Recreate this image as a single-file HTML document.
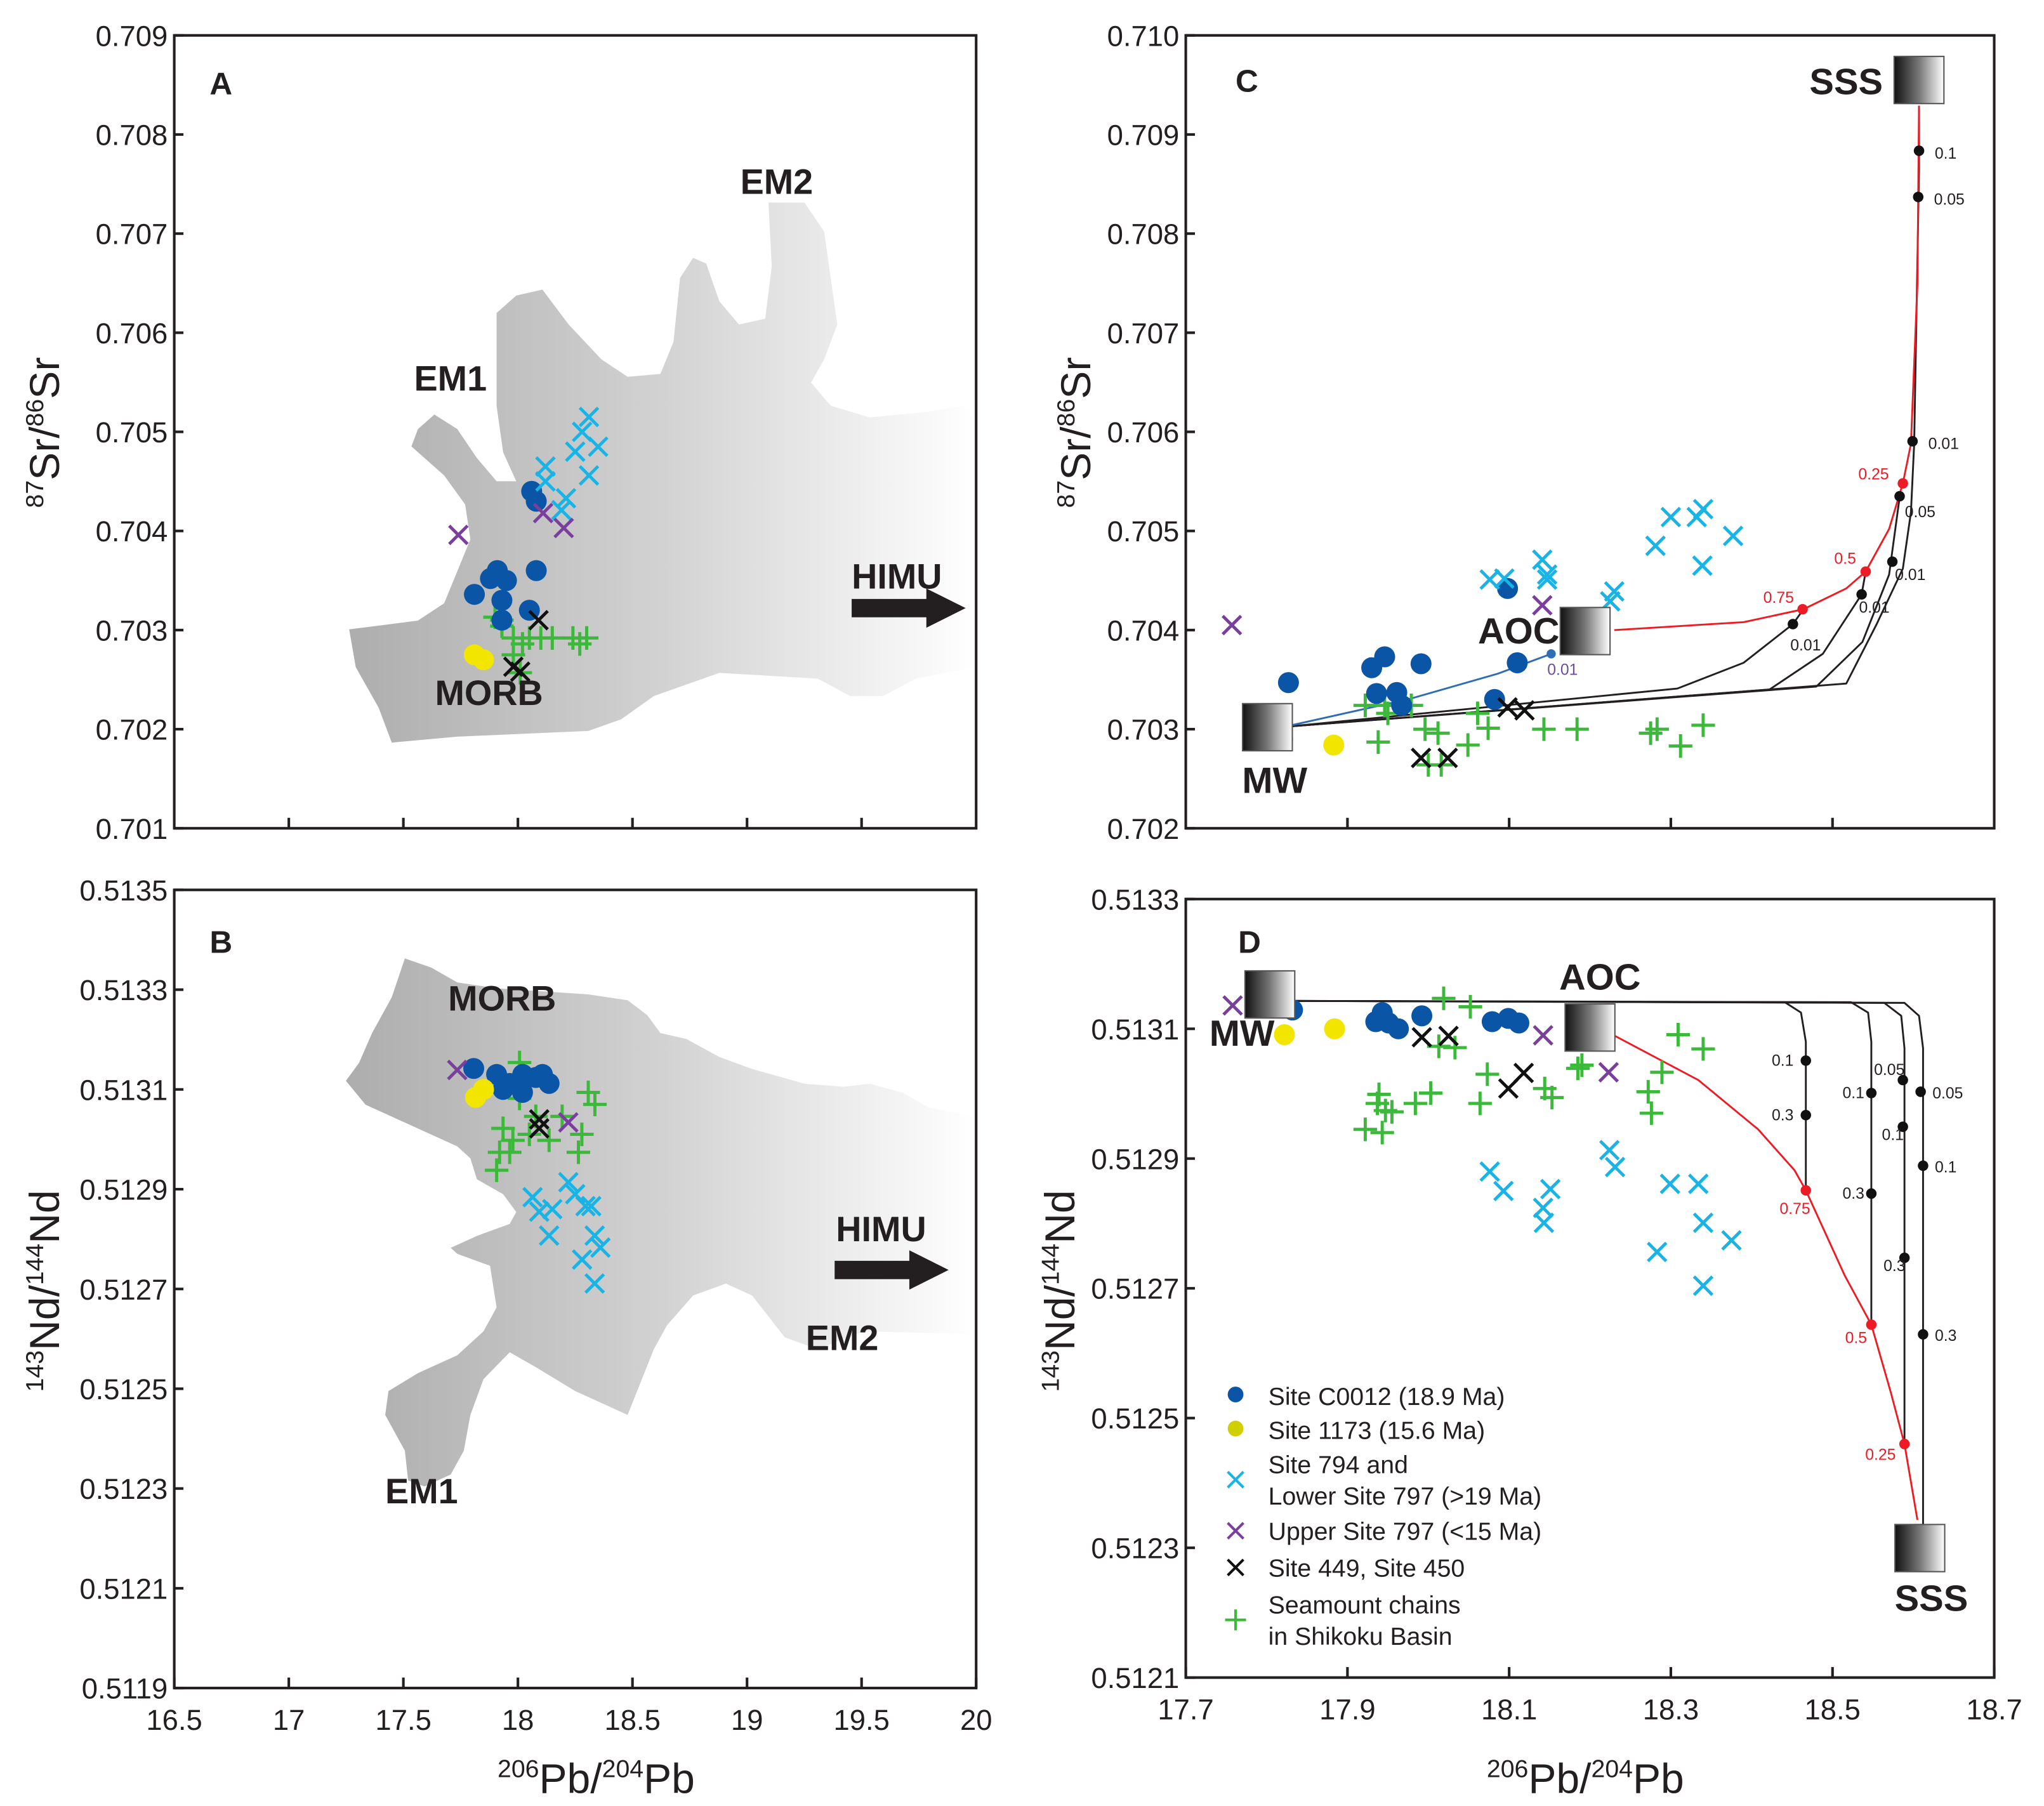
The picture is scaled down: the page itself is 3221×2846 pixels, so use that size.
<!DOCTYPE html>
<html><head><meta charset="utf-8"><style>
html,body{margin:0;padding:0;background:#fff;}
svg{display:block;}
text{font-family:"Liberation Sans",sans-serif;}
</style></head><body>
<svg id="fig" xmlns="http://www.w3.org/2000/svg" width="3221" height="2846" viewBox="0 0 1560 1378" preserveAspectRatio="none">
<defs>
<linearGradient id="fieldA" gradientUnits="userSpaceOnUse" x1="265" y1="0" x2="745" y2="0">
<stop offset="0" stop-color="#adadad"/><stop offset="0.5" stop-color="#d2d2d2"/><stop offset="1" stop-color="#ffffff"/></linearGradient>
<linearGradient id="boxg" x1="0" y1="0" x2="1" y2="0">
<stop offset="0" stop-color="#111"/><stop offset="0.5" stop-color="#777"/><stop offset="1" stop-color="#fff"/></linearGradient>
</defs>
<g id="layer"></g>
</svg>
<script>
// ---------- data arrays ----------
const aBlue=[[17.81,0.70336],[17.91,0.7036],[17.88,0.70352],[17.95,0.7035],[17.93,0.7033],[18.08,0.7036],[18.05,0.7032],[18.06,0.7044],[18.08,0.7043],[17.93,0.7031]];
const aYellow=[[17.81,0.70275],[17.85,0.7027]];
const aCyan=[[18.12,0.70465],[18.31,0.70515],[18.28,0.7050],[18.25,0.7048],[18.35,0.70485],[18.31,0.70456],[18.21,0.70433],[18.19,0.70421],[18.12,0.7045]];
const aPurple=[[17.74,0.70396],[18.11,0.70418],[18.2,0.70403]];
const aBlack=[[18.09,0.7031],[17.98,0.70263],[18.01,0.70258]];
const aGreen=[[17.93,0.7031],[17.98,0.70292],[18.10,0.70292],[18.15,0.70292],[18.27,0.70286],[18.30,0.70292],[17.98,0.70275],[18.01,0.70257],[17.93,0.70304],[17.90,0.70313],[18.24,0.70292],[18.05,0.70292],[18.02,0.70286]];

const bBlue=[[17.807,0.513142],[17.907,0.51313],[17.964,0.513112],[18.021,0.51313],[18.078,0.513124],[18.136,0.513112],[17.935,0.5131],[18.02,0.513094],[18.107,0.51313]];
const bYellow=[[17.85,0.5131],[17.815,0.513084]];
const bCyan=[[18.064,0.512884],[18.093,0.512855],[18.15,0.51286],[18.136,0.512807],[18.22,0.512914],[18.25,0.51289],[18.32,0.512866],[18.335,0.512807],[18.36,0.512783],[18.28,0.512759],[18.335,0.512711],[18.295,0.512866]];
const bPurple=[[17.735,0.513139],[18.22,0.513034]];
const bBlack=[[18.093,0.513022],[18.093,0.51304]];
const bGreen=[[18.007,0.513154],[18.007,0.513082],[17.935,0.513022],[17.92,0.512974],[17.907,0.512938],[17.978,0.512998],[18.05,0.51301],[18.136,0.512998],[18.193,0.513046],[18.279,0.51301],[18.264,0.512974],[18.307,0.513094],[18.336,0.51307],[18.078,0.513046],[17.964,0.512974]];

const cBlue=[[17.827,0.70347],[17.93,0.70362],[17.946,0.70373],[17.991,0.70366],[17.936,0.70336],[17.961,0.70337],[17.967,0.70324],[18.082,0.7033],[18.11,0.70367],[18.098,0.70442]];
const cYellow=[[17.883,0.70284],[17.82,0.7029]];
const cCyan=[[18.076,0.70451],[18.094,0.70452],[18.141,0.70471],[18.147,0.70451],[18.147,0.70456],[18.23,0.70439],[18.225,0.70429],[18.281,0.70485],[18.3,0.70514],[18.332,0.70514],[18.34,0.70522],[18.377,0.70495],[18.339,0.70465]];
const cPurple=[[17.757,0.70405],[18.141,0.70425]];
const cBlack=[[18.098,0.70322],[18.119,0.70319],[17.991,0.70271],[18.024,0.70271]];
const cGreen=[[17.922,0.70324],[17.946,0.70324],[17.95,0.70316],[17.979,0.70324],[17.996,0.703],[18.012,0.70296],[17.938,0.70287],[18.0,0.70264],[18.016,0.70264],[18.049,0.70284],[18.061,0.70316],[18.074,0.70301],[18.143,0.703],[18.184,0.703],[18.275,0.70296],[18.283,0.703],[18.312,0.70283],[18.34,0.70304]];

const dBlue=[[17.832,0.513129],[17.935,0.513111],[17.943,0.513125],[17.951,0.513109],[17.963,0.5131],[17.992,0.51312],[18.079,0.513111],[18.099,0.513116],[18.112,0.513109]];
const dYellow=[[17.822,0.513091],[17.884,0.5131]];
const dCyan=[[18.076,0.51288],[18.093,0.51285],[18.142,0.512824],[18.143,0.512801],[18.151,0.512853],[18.224,0.512913],[18.231,0.512887],[18.283,0.512756],[18.299,0.512861],[18.334,0.512861],[18.34,0.512801],[18.34,0.512704],[18.375,0.512774]];
const dPurple=[[17.758,0.513136],[18.142,0.51309],[18.223,0.513033]];
const dBlack=[[17.992,0.513087],[18.025,0.513089],[18.099,0.513008],[18.118,0.513032]];
const dGreen=[[17.939,0.512999],[17.937,0.512985],[17.947,0.512974],[17.955,0.512972],[17.922,0.512945],[17.943,0.51294],[17.984,0.512985],[18.003,0.513001],[18.013,0.513073],[18.019,0.513147],[18.033,0.513071],[18.052,0.513134],[18.064,0.512985],[18.073,0.51303],[18.144,0.513008],[18.153,0.512994],[18.185,0.513039],[18.19,0.513044],[18.272,0.513003],[18.276,0.51297],[18.289,0.513033],[18.309,0.513091],[18.34,0.513069]];

// mixing model curves
const cCurve1=[[17.831,0.70303],[18.308,0.70341],[18.39,0.70367],[18.451,0.70406],[18.464,0.70421]];
const cCurve2=[[17.831,0.70303],[18.422,0.7034],[18.488,0.70376],[18.536,0.70436],[18.541,0.70459]];
const cCurve3=[[17.831,0.70303],[18.48,0.70343],[18.537,0.70388],[18.57,0.70456],[18.583,0.70534]];
const cCurve4=[[17.831,0.70303],[18.517,0.70346],[18.554,0.70405],[18.587,0.70462],[18.597,0.70519],[18.601,0.70588],[18.607,0.70864],[18.607,0.70929]];
const cRed=[[18.23,0.704],[18.39,0.70408],[18.464,0.70421],[18.517,0.70442],[18.541,0.70459],[18.57,0.70502],[18.587,0.70548],[18.597,0.70588],[18.605,0.70749],[18.607,0.70929]];
const cBlueLine=[[17.831,0.70304],[17.979,0.70331],[18.086,0.70356],[18.152,0.70376]];
const cBlackDots=[[18.607,0.708836,"0.1",12,6],[18.606,0.70837,"0.05",12,6],[18.599,0.705905,"0.01",12,6],[18.583,0.70535,"0.05",4,16],[18.574,0.70469,"0.01",2,14],[18.536,0.70436,"0.01",-2,14],[18.451,0.70406,"0.01",-2,20]];
const cRedDots=[[18.463,0.70421,"0.75",-30,-5],[18.541,0.70459,"0.5",-24,-6],[18.587,0.70548,"0.25",-34,-3]];
const cBlueDots=[[18.152,0.70376,"0.01",-3,16]];

const dCurve1=[[17.833,0.513143],[18.441,0.513141],[18.461,0.513125],[18.467,0.51308],[18.467,0.512851]];
const dCurve2=[[17.833,0.513143],[18.523,0.513141],[18.544,0.513125],[18.548,0.51308],[18.548,0.512644]];
const dCurve3=[[17.833,0.513143],[18.564,0.51314],[18.585,0.51312],[18.589,0.51307],[18.589,0.51246]];
const dCurve4=[[17.833,0.513143],[18.589,0.51314],[18.607,0.51312],[18.612,0.51307],[18.612,0.512334]];
const dRed=[[18.231,0.513089],[18.334,0.513021],[18.408,0.512945],[18.453,0.512882],[18.467,0.512851],[18.515,0.51272],[18.548,0.512644],[18.572,0.51254],[18.589,0.51246],[18.605,0.512343]];
const dBlackDots=[[18.467,0.513051,"0.1",-26,4],[18.467,0.512967,"0.3",-26,4],[18.548,0.513001,"0.1",-22,4],[18.548,0.512846,"0.3",-22,4],[18.587,0.513021,"0.05",-22,-4],[18.587,0.512949,"0.1",-16,10],[18.589,0.512747,"0.3",-16,10],[18.609,0.513003,"0.05",9,5],[18.612,0.512889,"0.1",9,5],[18.612,0.512629,"0.3",9,5]];
const dRedDots=[[18.467,0.512851,"0.75",-20,18],[18.548,0.512644,"0.5",-20,14],[18.589,0.51246,"0.25",-30,12]];

// tick label arrays
const abXTicks=[16.5,17,17.5,18,18.5,19,19.5,20];
const aYTicks=["0.701","0.702","0.703","0.704","0.705","0.706","0.707","0.708","0.709"];
const bYTicks=["0.5119","0.5121","0.5123","0.5125","0.5127","0.5129","0.5131","0.5133","0.5135"];
const cdXTicks=["17.7","17.9","18.1","18.3","18.5","18.7"];
const cYTicks=["0.702","0.703","0.704","0.705","0.706","0.707","0.708","0.709","0.710"];
const dYTicks=["0.5121","0.5123","0.5125","0.5127","0.5129","0.5131","0.5133"];

// ---------- drawing ----------
const NS="http://www.w3.org/2000/svg";
const L=document.getElementById('layer');
function mk(tag,attrs,parent){const e=document.createElementNS(NS,tag);for(const k in attrs)e.setAttribute(k,attrs[k]);(parent||L).appendChild(e);return e;}
function panel(x0,x1,y0,y1,xmin,xmax,ymin,ymax){return {x0,x1,y0,y1,sx:v=>x0+(v-xmin)/(xmax-xmin)*(x1-x0),sy:v=>y1-(v-ymin)/(ymax-ymin)*(y1-y0)};}
const PA=panel(133,745,27,632,16.5,20,0.701,0.709);
const PB=panel(133,745,679,1288,16.5,20,0.5119,0.5135);
const PC=panel(905,1522,27,632,17.7,18.7,0.702,0.710);
const PD=panel(905,1522,686,1280,17.7,18.7,0.5121,0.5133);

function txt(s,x,y,size,opts,name){const t=mk('text',Object.assign({x:x,y:y,'font-size':size,fill:'#231f20'},opts||{}));t.textContent=s;

return t;}

// fields (decorative regions; traced outlines)
const fieldAz=[[535,1085],[570,1080],[640,1070],[680,1040],[720,930],[712,870],[680,820],[630,770],[640,740],[665,715],[700,740],[730,790],[760,830],[790,830],[770,780],[760,700],[760,540],[790,510],[830,500],[870,560],[920,620],[960,650],[1010,645],[1030,590],[1040,480],[1060,445],[1080,455],[1100,520],[1130,560],[1170,550],[1180,460],[1175,350],[1230,350],[1260,400],[1270,480],[1280,560],[1260,620],[1240,660],[1270,700],[1330,720],[1420,710],[1470,700],[1492,715],[1492,1150],[1400,1170],[1350,1200],[1300,1200],[1250,1170],[1100,1160],[1000,1200],[950,1240],[900,1260],[860,1262],[700,1270],[600,1280],[580,1220],[560,1180],[545,1150]];
const fieldBz=[[620,135],[660,150],[700,175],[760,185],[830,190],[900,195],[960,205],[990,230],[1010,260],[1050,270],[1100,300],[1150,320],[1230,345],[1290,350],[1330,345],[1380,360],[1420,385],[1492,400],[1492,765],[1320,760],[1250,790],[1200,770],[1150,700],[1110,680],[1060,700],[1020,750],[1000,790],[960,900],[920,880],[880,860],[820,820],[780,795],[740,840],[720,900],[710,960],[690,1000],[650,1020],[625,1010],[620,960],[590,900],[595,860],[640,830],[700,800],[740,760],[760,720],[750,650],[700,630],[690,620],[730,600],[780,580],[790,560],[770,530],[730,505],[720,470],[700,450],[660,430],[600,400],[560,380],[530,340],[550,310],[570,260],[600,200]];
function fieldPath(arr,ox,oy,fy){return 'M'+arr.map(p=>(133+(p[0]-268)*0.5).toFixed(1)+','+(oy+(p[1]-ox)*fy).toFixed(1)).join('L')+'Z';}
const fa=mk('path',{d:fieldPath(fieldAz,62,27,0.443),fill:'url(#fieldA)'});


const fb=mk('path',{d:fieldPath(fieldBz,20,679,0.4552),fill:'url(#fieldA)'});



// frames & ticks
function frame(P,name){const r=mk('rect',{x:P.x0,y:P.y0,width:P.x1-P.x0,height:P.y1-P.y0,fill:'none',stroke:'#231f20','stroke-width':2});

}
function yAxis(P,ticks,name){ticks.forEach(t=>{const y=P.sy(parseFloat(t));mk('line',{x1:P.x0,x2:P.x0+7,y1:y,y2:y,stroke:'#231f20','stroke-width':2});
txt(t,P.x0-5,y+8,22,{'text-anchor':'end'},name+'-tick-label');});}
function xAxis(P,ticks,labels,name){ticks.forEach(t=>{const x=P.sx(parseFloat(t));mk('line',{x1:x,x2:x,y1:P.y1,y2:P.y1-8,stroke:'#231f20','stroke-width':2});
if(labels)txt(String(t),x,P.y1+32,22,{'text-anchor':'middle'},name+'-tick-label');});}
frame(PA,'panel-a-frame');frame(PB,'panel-b-frame');frame(PC,'panel-c-frame');frame(PD,'panel-d-frame');
yAxis(PA,aYTicks,'a-y');yAxis(PB,bYTicks,'b-y');yAxis(PC,cYTicks,'c-y');yAxis(PD,dYTicks,'d-y');
xAxis(PA,abXTicks.slice(1,-1),false,'a-x');xAxis(PB,abXTicks,true,'b-x');
xAxis(PC,cdXTicks.slice(1,-1),false,'c-x');xAxis(PD,cdXTicks,true,'d-x');

// curves
function curve(P,arr,color,w,name){const p=mk('polyline',{points:arr.map(d=>P.sx(d[0])+','+P.sy(d[1])).join(' '),fill:'none',stroke:color,'stroke-width':w,'stroke-linejoin':'round'});

}
[cCurve1,cCurve2,cCurve3,cCurve4].forEach((c,i)=>curve(PC,c,'#231f20',1.4,'c-mixing-curve-'+(i+1)));
curve(PC,cRed,'#ed1c24',1.4,'c-red-mixing-curve');curve(PC,cBlueLine,'#2e6db4',1.4,'c-blue-mixing-curve');
[dCurve1,dCurve2,dCurve3,dCurve4].forEach((c,i)=>curve(PD,c,'#231f20',1.4,'d-mixing-curve-'+(i+1)));
curve(PD,dRed,'#ed1c24',1.4,'d-red-mixing-curve');

function dots(P,arr,color,r,lcolor,name){arr.forEach(d=>{const x=P.sx(d[0]),y=P.sy(d[1]);const c=mk('circle',{cx:x,cy:y,r:r,fill:color});


txt(d[2],x+d[3],y+d[4],12,{fill:lcolor},name+'-label');});}

// markers
function circ(P,arr,color,name){arr.forEach(d=>{const c=mk('circle',{cx:P.sx(d[0]),cy:P.sy(d[1]),r:8,fill:color});

});}
function cross(P,arr,color,name){arr.forEach(d=>{const x=P.sx(d[0]),y=P.sy(d[1]),s=7;const p=mk('path',{d:`M${x-s},${y-s}L${x+s},${y+s}M${x-s},${y+s}L${x+s},${y-s}`,stroke:color,'stroke-width':2.4,fill:'none'});

});}
function plus(P,arr,color,name){arr.forEach(d=>{const x=P.sx(d[0]),y=P.sy(d[1]),s=9;const p=mk('path',{d:`M${x-s},${y}L${x+s},${y}M${x},${y-s}L${x},${y+s}`,stroke:color,'stroke-width':2.4,fill:'none'});

});}
const BLUE='#0b55a6',YEL='#f2e600',CY='#1ab3e6',PU='#7a3f9d',BK='#111',GR='#3cb93a';
function series(P,tag,b,y,c,p,k,g){plus(P,g,GR,tag+'-seamount-point');circ(P,b,BLUE,tag+'-c0012-point');circ(P,y,YEL,tag+'-1173-point');cross(P,c,CY,tag+'-site794-point');cross(P,p,PU,tag+'-upper797-point');cross(P,k,BK,tag+'-site449-point');}
series(PA,'a',aBlue,aYellow,aCyan,aPurple,aBlack,aGreen);
series(PB,'b',bBlue,bYellow,bCyan,bPurple,bBlack,bGreen);
series(PC,'c',cBlue,cYellow,cCyan,cPurple,cBlack,cGreen);
series(PD,'d',dBlue,dYellow,dCyan,dPurple,dBlack,dGreen);

dots(PC,cBlackDots,'#111',4,'#231f20','c-black-fraction-dot');
dots(PC,cRedDots,'#ed1c24',4,'#ed1c24','c-red-fraction-dot');
dots(PC,cBlueDots,'#2e6db4',3.5,'#6a4ea0','c-blue-fraction-dot');
dots(PD,dBlackDots,'#111',4,'#231f20','d-black-fraction-dot');
dots(PD,dRedDots,'#ed1c24',4,'#ed1c24','d-red-fraction-dot');

// end-member boxes
function box(cx,cy,name){const r=mk('rect',{x:cx-19,y:cy-18,width:38,height:36,fill:'url(#boxg)',stroke:'#555','stroke-width':1});

}
box(PC.sx(17.801),PC.sy(0.70302),'c-mw-box');box(PC.sx(18.194),PC.sy(0.70399),'c-aoc-box');box(PC.sx(18.607),PC.sy(0.70955),'c-sss-box');
box(PD.sx(17.804),PD.sy(0.513153),'d-mw-box');box(PD.sx(18.2),PD.sy(0.513102),'d-aoc-box');box(PD.sx(18.608),PD.sy(0.5122996),'d-sss-box');

// text labels
const B={'font-weight':'bold'};
txt('A',160,72,24,B,'panel-a-letter');txt('B',160,727,24,B,'panel-b-letter');txt('C',943,70,24,B,'panel-c-letter');txt('D',945,727,24,B,'panel-d-letter');
txt('EM2',565,148,27,B,'em2-label-a');txt('EM1',316,298,27,B,'em1-label-a');txt('HIMU',650,449,27,B,'himu-label-a');txt('MORB',332,538,27,B,'morb-label-a');
txt('MORB',342,771,27,B,'morb-label-b');txt('HIMU',638,947,27,B,'himu-label-b');txt('EM2',615,1030,27,B,'em2-label-b');txt('EM1',294,1147,27,B,'em1-label-b');
txt('SSS',1381,72,28,B,'sss-label-c');txt('AOC',1128,491,28,B,'aoc-label-c');txt('MW',948,605,28,B,'mw-label-c');
txt('AOC',1190,755,28,B,'aoc-label-d');txt('MW',923,798,28,B,'mw-label-d');txt('SSS',1446,1229,28,B,'sss-label-d');
// arrows
function arrow(x0,x1,y,name){const p=mk('path',{d:`M${x0},${y-7}L${x1-30},${y-7}L${x1-30},${y-15}L${x1},${y}L${x1-30},${y+15}L${x1-30},${y+7}L${x0},${y+7}Z`,fill:'#231f20'});

}
arrow(650,737,464,'himu-arrow-a');arrow(637,724,969,'himu-arrow-b');

// axis titles
function ytitle(x,y,a,b,c,name){const t=mk('text',{x:x,y:y,'font-size':32,fill:'#231f20','text-anchor':'middle',transform:`rotate(-90 ${x} ${y})`});


t.innerHTML=`<tspan font-size="19" dy="-12">${a}</tspan><tspan dy="12">${b}/</tspan><tspan font-size="19" dy="-12">${c}</tspan><tspan dy="12">${b}</tspan>`;}
ytitle(45,330,'87','Sr','86','a-y-axis-title');ytitle(832,330,'87','Sr','86','c-y-axis-title');
ytitle(45,985,'143','Nd','144','b-y-axis-title');ytitle(820,985,'143','Nd','144','d-y-axis-title');
function xtitle(x,y,name){const t=mk('text',{x:x,y:y,'font-size':32,fill:'#231f20','text-anchor':'middle'});


t.innerHTML='<tspan font-size="19" dy="-12">206</tspan><tspan dy="12">Pb/</tspan><tspan font-size="19" dy="-12">204</tspan><tspan dy="12">Pb</tspan>';}
xtitle(455,1368,'b-x-axis-title');xtitle(1210,1368,'d-x-axis-title');

// legend
const lg=mk('g',{});


const legItems=[["circle",BLUE,1065,["Site C0012 (18.9 Ma)"]],["circle","#d0d000",1091,["Site 1173 (15.6 Ma)"]],["cross",CY,1129,["Site 794 and","Lower Site 797 (>19 Ma)"]],["cross",PU,1168,["Upper Site 797 (<15 Ma)"]],["cross",BK,1196,["Site 449, Site 450"]],["plus",GR,1236,["Seamount chains","in Shikoku Basin"]]];
legItems.forEach(it=>{const [type,col,y,lines]=it;const x=943;let m;
if(type==='circle')m=mk('circle',{cx:x,cy:y-1,r:6,fill:col},lg);
else if(type==='cross')m=mk('path',{d:`M${x-6},${y-6}L${x+6},${y+6}M${x-6},${y+6}L${x+6},${y-6}`,stroke:col,'stroke-width':2},lg);
else m=mk('path',{d:`M${x-8},${y}L${x+8},${y}M${x},${y-8}L${x},${y+8}`,stroke:col,'stroke-width':2},lg);


const y0=lines.length>1?y-12:y;
lines.forEach((s,i)=>{const t=txt(s,968,y0+7+i*24,19,{},'legend-entry');lg.appendChild(t);});});
</script>
</body></html>
